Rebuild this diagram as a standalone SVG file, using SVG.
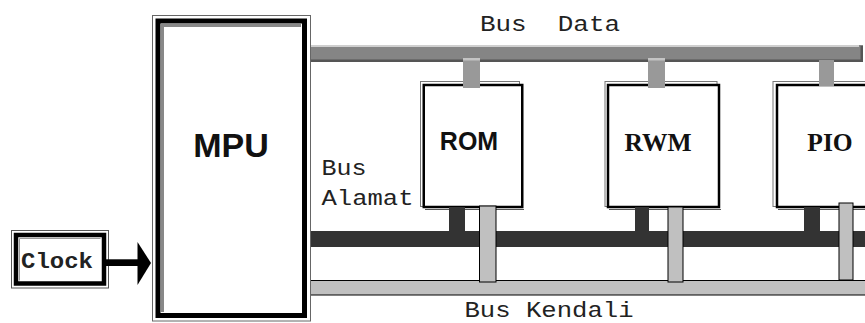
<svg xmlns="http://www.w3.org/2000/svg" width="865" height="323" viewBox="0 0 865 323">
<style>
.mono{font-family:"Courier New","Liberation Mono",monospace;font-size:22px;fill:#222;white-space:pre}
.sans{font-family:"Liberation Sans",Arial,sans-serif;font-weight:bold;fill:#111}
.serif{font-family:"Liberation Serif","Times New Roman",serif;font-weight:bold;fill:#111}
.shadow{fill:none;stroke:#777;stroke-width:1}
.box{fill:#fff;stroke:#000;stroke-width:2.5}
.dconn{fill:#999}
.dcap{fill:#c4c4c4}
.aconn{fill:#333}
.cconn{fill:#c0c0c0;stroke:#000;stroke-width:1}
</style>
<rect width="865" height="323" fill="#fff"/>

<g id="connectors">
  <!-- Bus Data -->
  <rect x="307" y="45" width="556" height="17" fill="#858585"/>
  <rect x="307" y="45" width="552" height="2" fill="#cfcfcf"/>
  <rect x="307" y="59.5" width="556" height="2.5" fill="#555"/>
  <rect x="860.5" y="46" width="2.5" height="16" fill="#555"/>
  <!-- Bus Alamat -->
  <rect x="310" y="231" width="560" height="16" fill="#333"/>
  <!-- Bus Kendali -->
  <rect x="310" y="280.5" width="560" height="14.5" class="cconn"/>
</g>

<g id="rom">
  <rect x="420.5" y="81.5" width="99" height="125" class="shadow"/>
  <rect x="423.75" y="85" width="98.5" height="122" class="box"/>
  <line x1="425" y1="209.5" x2="524" y2="209.5" stroke="#555" stroke-width="1"/>
  <text x="469" y="150" text-anchor="middle" font-size="25" class="sans">ROM</text>
  <rect x="463" y="58" width="17" height="30" class="dconn"/>
  <rect x="463" y="58" width="17" height="2.5" class="dcap"/>
  <rect x="449" y="207" width="16" height="25" class="aconn"/>
  <rect x="479.5" y="206" width="16.5" height="76" class="cconn"/>
</g>

<g id="rwm">
  <rect x="605" y="81.5" width="112" height="125" class="shadow"/>
  <rect x="608" y="85" width="111" height="122" class="box"/>
  <line x1="609" y1="209.5" x2="721" y2="209.5" stroke="#555" stroke-width="1"/>
  <text x="658" y="150.5" text-anchor="middle" font-size="25.5" class="serif">RWM</text>
  <rect x="648" y="58" width="17" height="30" class="dconn"/>
  <rect x="648" y="58" width="17" height="2.5" class="dcap"/>
  <rect x="635" y="207" width="14" height="25" class="aconn"/>
  <rect x="668" y="207" width="15" height="75" class="cconn"/>
</g>

<g id="pio">
  <rect x="773" y="81.5" width="120" height="125" class="shadow"/>
  <rect x="777" y="85" width="120" height="122" class="box"/>
  <line x1="778" y1="209.5" x2="870" y2="209.5" stroke="#555" stroke-width="1"/>
  <text x="830" y="150.5" text-anchor="middle" font-size="25.5" class="serif">PIO</text>
  <rect x="819" y="60" width="15" height="26" class="dconn"/>
  <rect x="804" y="207" width="16" height="25" class="aconn"/>
  <rect x="839" y="203" width="14" height="77" class="cconn"/>
</g>

<g id="mpu">
  <rect x="152.5" y="15.5" width="158" height="305.5" fill="#fff" stroke="#666" stroke-width="1"/>
  <rect x="158" y="21" width="146.5" height="294.5" fill="#fff" stroke="#000" stroke-width="5"/>
  <path d="M162.5 312 V25.5 H301" fill="none" stroke="#888" stroke-width="3"/>
  <text x="231" y="157" text-anchor="middle" font-size="34" class="sans">MPU</text>
</g>

<g id="clock">
  <rect x="11.5" y="230.5" width="97" height="57.5" fill="#fff" stroke="#555" stroke-width="1"/>
  <rect x="16" y="235" width="88" height="48.5" fill="#fff" stroke="#000" stroke-width="4.5"/>
  <path d="M19.5 280.5 V238.5 H100.5" fill="none" stroke="#999" stroke-width="1"/>
  <text x="21" y="268" font-size="20" font-weight="bold" class="mono" textLength="72" lengthAdjust="spacingAndGlyphs">Clock</text>
</g>

<g id="clock-arrow">
  <rect x="106" y="259.3" width="34" height="6.7" fill="#000"/>
  <polygon points="137.5,242 151,263 137.5,285" fill="#000"/>
</g>

<g id="labels">
  <text x="480" y="31" class="mono" textLength="140" lengthAdjust="spacingAndGlyphs">Bus  Data</text>
  <text x="321.5" y="175" class="mono" textLength="45" lengthAdjust="spacingAndGlyphs">Bus</text>
  <text x="321.5" y="205" class="mono" textLength="92" lengthAdjust="spacingAndGlyphs">Alamat</text>
  <text x="464.5" y="316.5" class="mono" textLength="169" lengthAdjust="spacingAndGlyphs">Bus Kendali</text>
</g>
</svg>
